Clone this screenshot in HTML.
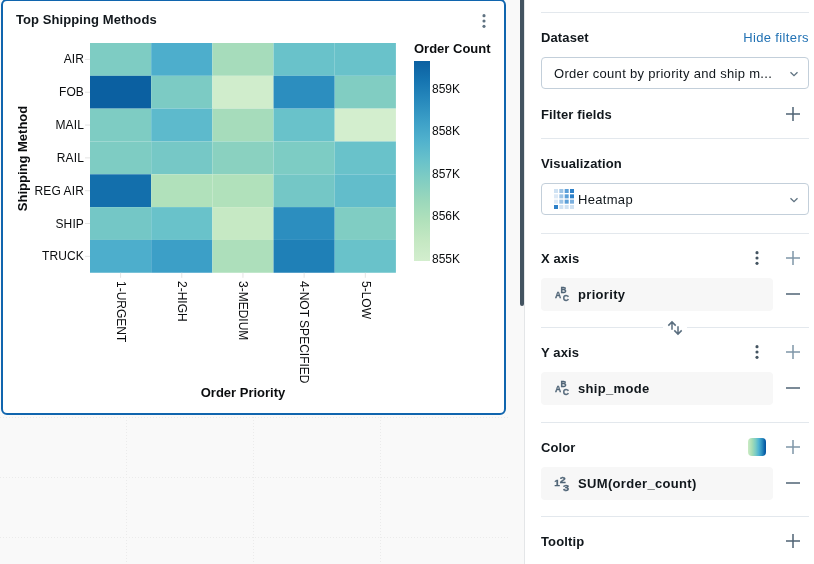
<!DOCTYPE html>
<html lang="en">
<head>
<meta charset="utf-8">
<title>Top Shipping Methods</title>
<style>
*{box-sizing:border-box;margin:0;padding:0}
html,body{width:814px;height:564px;overflow:hidden;background:#fff}
body{font-family:"Liberation Sans",Arial,sans-serif;font-size:13px;color:#11171c;position:relative}
.canvas{position:absolute;left:0;top:0;width:524px;height:564px;background:#f9f9f9;overflow:hidden}
.gl{position:absolute;background-repeat:repeat}
.gv{width:1px;top:0;height:564px;background-image:linear-gradient(to bottom,#ebebeb 1px,transparent 1px);background-size:1px 3px}
.gh{height:1px;left:0;width:509px;background-image:linear-gradient(to right,#ebebeb 1px,transparent 1px);background-size:3px 1px}
.card{position:absolute;left:1px;top:-1px;width:505px;height:416px;background:#fff;border:2px solid #1065ae;border-radius:6px}
.title{position:absolute;left:16px;top:12px;letter-spacing:0.08px;font-weight:bold;font-size:13px;line-height:16px;color:#11171c;white-space:nowrap}
.thumb{position:absolute;left:520px;top:-4px;width:4px;height:310px;background:#445461;border-radius:2px}
.panel{position:absolute;left:524px;top:0;width:290px;height:564px;background:#fff;border-left:1px solid #e4e6e8}
.hr{position:absolute;left:541px;width:268px;height:1px;background:#e3e8ed}
.lbl{position:absolute;left:541px;letter-spacing:0.12px;font-weight:bold;font-size:13px;line-height:16px;white-space:nowrap;color:#11171c}
.link{position:absolute;right:5px;letter-spacing:0.37px;font-size:13px;line-height:16px;color:#2272b4;white-space:nowrap}
.sel{position:absolute;left:541px;width:268px;height:32px;border:1px solid #c3cfda;border-radius:4px;background:#fff}
.sel span{position:absolute;top:8px;letter-spacing:0.31px;font-size:13px;line-height:16px;white-space:nowrap;color:#11171c}
.pill{position:absolute;left:541px;width:232px;height:33px;background:#f7f7f7;border-radius:4px}
.pill span{position:absolute;left:37px;top:9px;letter-spacing:0.33px;font-weight:bold;font-size:13px;line-height:16px;white-space:nowrap;color:#11171c}
svg.ic{position:absolute;overflow:visible}
</style>
</head>
<body>
<div class="canvas">
  <div class="gl gv" style="left:126px"></div>
  <div class="gl gv" style="left:253px"></div>
  <div class="gl gv" style="left:380px"></div>
  <div class="gl gh" style="top:417px"></div>
  <div class="gl gh" style="top:477px"></div>
  <div class="gl gh" style="top:537px"></div>
  <div class="card"></div>
  <svg class="chart" width="506" height="416" viewBox="0 0 506 416" style="position:absolute;left:0;top:0" font-family="Liberation Sans, Arial, sans-serif">
<rect x="90.00" y="43.00" width="61.18" height="32.82" fill="#7eccc3"/>
<rect x="151.18" y="43.00" width="61.18" height="32.82" fill="#4daecc"/>
<rect x="212.36" y="43.00" width="61.18" height="32.82" fill="#a6dcbb"/>
<rect x="273.54" y="43.00" width="61.18" height="32.82" fill="#69c2ca"/>
<rect x="334.72" y="43.00" width="61.18" height="32.82" fill="#69c2ca"/>
<rect x="90.00" y="75.82" width="61.18" height="32.82" fill="#0b60a1"/>
<rect x="151.18" y="75.82" width="61.18" height="32.82" fill="#7ccbc4"/>
<rect x="212.36" y="75.82" width="61.18" height="32.82" fill="#d0edcc"/>
<rect x="273.54" y="75.82" width="61.18" height="32.82" fill="#2c8ebf"/>
<rect x="334.72" y="75.82" width="61.18" height="32.82" fill="#81cdc2"/>
<rect x="90.00" y="108.64" width="61.18" height="32.82" fill="#7eccc3"/>
<rect x="151.18" y="108.64" width="61.18" height="32.82" fill="#5dbacc"/>
<rect x="212.36" y="108.64" width="61.18" height="32.82" fill="#a6dcbb"/>
<rect x="273.54" y="108.64" width="61.18" height="32.82" fill="#69c2ca"/>
<rect x="334.72" y="108.64" width="61.18" height="32.82" fill="#d3eece"/>
<rect x="90.00" y="141.46" width="61.18" height="32.82" fill="#7eccc3"/>
<rect x="151.18" y="141.46" width="61.18" height="32.82" fill="#76c8c6"/>
<rect x="212.36" y="141.46" width="61.18" height="32.82" fill="#8ad1c0"/>
<rect x="273.54" y="141.46" width="61.18" height="32.82" fill="#7dccc4"/>
<rect x="334.72" y="141.46" width="61.18" height="32.82" fill="#69c2ca"/>
<rect x="90.00" y="174.29" width="61.18" height="32.82" fill="#136fac"/>
<rect x="151.18" y="174.29" width="61.18" height="32.82" fill="#b1e1bb"/>
<rect x="212.36" y="174.29" width="61.18" height="32.82" fill="#b1e1bb"/>
<rect x="273.54" y="174.29" width="61.18" height="32.82" fill="#74c7c6"/>
<rect x="334.72" y="174.29" width="61.18" height="32.82" fill="#62bdcb"/>
<rect x="90.00" y="207.11" width="61.18" height="32.82" fill="#74c7c6"/>
<rect x="151.18" y="207.11" width="61.18" height="32.82" fill="#69c2ca"/>
<rect x="212.36" y="207.11" width="61.18" height="32.82" fill="#c6e9c4"/>
<rect x="273.54" y="207.11" width="61.18" height="32.82" fill="#2c8ebf"/>
<rect x="334.72" y="207.11" width="61.18" height="32.82" fill="#80cdc3"/>
<rect x="90.00" y="239.93" width="61.18" height="32.82" fill="#4daecc"/>
<rect x="151.18" y="239.93" width="61.18" height="32.82" fill="#3c9fc7"/>
<rect x="212.36" y="239.93" width="61.18" height="32.82" fill="#addfbb"/>
<rect x="273.54" y="239.93" width="61.18" height="32.82" fill="#1f80b7"/>
<rect x="334.72" y="239.93" width="61.18" height="32.82" fill="#69c2ca"/>
<line x1="85" x2="90" y1="59.41" y2="59.41" stroke="#e4e4e4" stroke-width="1"/>
<text x="84" y="63.41" font-size="12" letter-spacing="0.12" text-anchor="end" fill="#0b0d0f">AIR</text>
<line x1="85" x2="90" y1="92.23" y2="92.23" stroke="#e4e4e4" stroke-width="1"/>
<text x="84" y="96.23" font-size="12" letter-spacing="0.12" text-anchor="end" fill="#0b0d0f">FOB</text>
<line x1="85" x2="90" y1="125.05" y2="125.05" stroke="#e4e4e4" stroke-width="1"/>
<text x="84" y="129.05" font-size="12" letter-spacing="0.12" text-anchor="end" fill="#0b0d0f">MAIL</text>
<line x1="85" x2="90" y1="157.88" y2="157.88" stroke="#e4e4e4" stroke-width="1"/>
<text x="84" y="161.88" font-size="12" letter-spacing="0.12" text-anchor="end" fill="#0b0d0f">RAIL</text>
<line x1="85" x2="90" y1="190.70" y2="190.70" stroke="#e4e4e4" stroke-width="1"/>
<text x="84" y="194.70" font-size="12" letter-spacing="0.12" text-anchor="end" fill="#0b0d0f">REG AIR</text>
<line x1="85" x2="90" y1="223.52" y2="223.52" stroke="#e4e4e4" stroke-width="1"/>
<text x="84" y="227.52" font-size="12" letter-spacing="0.12" text-anchor="end" fill="#0b0d0f">SHIP</text>
<line x1="85" x2="90" y1="256.34" y2="256.34" stroke="#e4e4e4" stroke-width="1"/>
<text x="84" y="260.34" font-size="12" letter-spacing="0.12" text-anchor="end" fill="#0b0d0f">TRUCK</text>
<line x1="120.59" x2="120.59" y1="272.8" y2="277.8" stroke="#e4e4e4" stroke-width="1"/>
<text transform="translate(116.79,281) rotate(90)" font-size="12" fill="#0b0d0f">1-URGENT</text>
<line x1="181.77" x2="181.77" y1="272.8" y2="277.8" stroke="#e4e4e4" stroke-width="1"/>
<text transform="translate(177.97,281) rotate(90)" font-size="12" fill="#0b0d0f">2-HIGH</text>
<line x1="242.95" x2="242.95" y1="272.8" y2="277.8" stroke="#e4e4e4" stroke-width="1"/>
<text transform="translate(239.15,281) rotate(90)" font-size="12" fill="#0b0d0f">3-MEDIUM</text>
<line x1="304.13" x2="304.13" y1="272.8" y2="277.8" stroke="#e4e4e4" stroke-width="1"/>
<text transform="translate(300.33,281) rotate(90)" font-size="12" fill="#0b0d0f">4-NOT SPECIFIED</text>
<line x1="365.31" x2="365.31" y1="272.8" y2="277.8" stroke="#e4e4e4" stroke-width="1"/>
<text transform="translate(361.51,281) rotate(90)" font-size="12" fill="#0b0d0f">5-LOW</text>
<text transform="translate(27,158.5) rotate(-90)" font-size="13" font-weight="bold" text-anchor="middle" fill="#0b0d0f">Shipping Method</text>
<text x="243" y="397" font-size="13" font-weight="bold" text-anchor="middle" fill="#0b0d0f">Order Priority</text>
<defs><linearGradient id="lg" x1="0" y1="1" x2="0" y2="0"><stop offset="0%" stop-color="#d3eece"/><stop offset="10%" stop-color="#c5e8c3"/><stop offset="20%" stop-color="#b1e1bb"/><stop offset="30%" stop-color="#9bd8bb"/><stop offset="40%" stop-color="#82cec2"/><stop offset="50%" stop-color="#69c2ca"/><stop offset="60%" stop-color="#51b2cd"/><stop offset="70%" stop-color="#3c9fc7"/><stop offset="80%" stop-color="#288abd"/><stop offset="90%" stop-color="#1675b1"/><stop offset="100%" stop-color="#0b60a1"/></linearGradient></defs>
<text x="414" y="52.5" font-size="13" font-weight="bold" fill="#0b0d0f">Order Count</text>
<rect x="414" y="61" width="16" height="200" fill="url(#lg)"/>
<text x="432" y="93.2" font-size="12" fill="#0b0d0f">859K</text>
<text x="432" y="134.7" font-size="12" fill="#0b0d0f">858K</text>
<text x="432" y="178.2" font-size="12" fill="#0b0d0f">857K</text>
<text x="432" y="219.7" font-size="12" fill="#0b0d0f">856K</text>
<text x="432" y="263.2" font-size="12" fill="#0b0d0f">855K</text>
</svg>
  <div class="title">Top Shipping Methods</div>
  <svg class="ic" style="left:476px;top:13px" width="16" height="16" viewBox="0 0 16 16"><circle cx="8" cy="2.65" r="1.55" fill="#5f7281"/><circle cx="8" cy="8" r="1.55" fill="#5f7281"/><circle cx="8" cy="13.35" r="1.55" fill="#5f7281"/></svg>
</div>
<div class="thumb"></div>
<div class="panel"></div>

<div class="hr" style="top:12px"></div>
<div class="lbl" style="top:30px">Dataset</div>
<div class="link" style="top:30px">Hide filters</div>
<div class="sel" style="top:57px"><span style="left:12px">Order count by priority and ship m...</span>
  <svg class="ic" style="left:247.2px;top:10.5px" width="10" height="10" viewBox="0 0 10 10"><path d="M1.5 3.2 L5 6.7 L8.5 3.2" fill="none" stroke="#5f7281" stroke-width="1.3"/></svg>
</div>
<div class="lbl" style="top:107px">Filter fields</div>
<svg class="ic plus" style="left:786px;top:107px" width="14" height="14" viewBox="0 0 14 14"><path d="M7 0V14M0 7H14" stroke="#4f6374" stroke-width="1.5" fill="none"/></svg>

<div class="hr" style="top:138px"></div>
<div class="lbl" style="top:156px">Visualization</div>
<div class="sel" style="top:183px"><span style="left:36px">Heatmap</span>
  <svg class="ic" style="left:12px;top:5px" width="20" height="20" viewBox="0 0 20 20">
    <g>
    <rect x="0" y="0" width="4" height="4" fill="#cfe2f3"/><rect x="5.33" y="0" width="4" height="4" fill="#9dc4e6"/><rect x="10.67" y="0" width="4" height="4" fill="#5b9fd8"/><rect x="16" y="0" width="4" height="4" fill="#2d80c8"/>
    <rect x="0" y="5.33" width="4" height="4" fill="#dce9f6"/><rect x="5.33" y="5.33" width="4" height="4" fill="#9dc4e6"/><rect x="10.67" y="5.33" width="4" height="4" fill="#5b9fd8"/><rect x="16" y="5.33" width="4" height="4" fill="#2d80c8"/>
    <rect x="0" y="10.67" width="4" height="4" fill="#dce9f6"/><rect x="5.33" y="10.67" width="4" height="4" fill="#9dc4e6"/><rect x="10.67" y="10.67" width="4" height="4" fill="#5b9fd8"/><rect x="16" y="10.67" width="4" height="4" fill="#7bb0df"/>
    <rect x="0" y="16" width="4" height="4" fill="#2d80c8"/><rect x="5.33" y="16" width="4" height="4" fill="#cfe2f3"/><rect x="10.67" y="16" width="4" height="4" fill="#cfe2f3"/><rect x="16" y="16" width="4" height="4" fill="#cfe2f3"/>
    </g>
  </svg>
  <svg class="ic" style="left:247.2px;top:10.5px" width="10" height="10" viewBox="0 0 10 10"><path d="M1.5 3.2 L5 6.7 L8.5 3.2" fill="none" stroke="#5f7281" stroke-width="1.3"/></svg>
</div>

<div class="hr" style="top:233px"></div>
<div class="lbl" style="top:251px">X axis</div>
<svg class="ic" style="left:749px;top:250px" width="16" height="16" viewBox="0 0 16 16"><circle cx="8" cy="2.65" r="1.55" fill="#445461"/><circle cx="8" cy="8" r="1.55" fill="#445461"/><circle cx="8" cy="13.35" r="1.55" fill="#445461"/></svg>
<svg class="ic" style="left:786px;top:251px" width="14" height="14" viewBox="0 0 14 14"><path d="M7 0V14M0 7H14" stroke="#7f96a8" stroke-width="1.5" fill="none"/></svg>
<div class="pill" style="top:278px"><span>priority</span>
  <svg class="ic" style="left:13px;top:7px" width="18" height="18" viewBox="0 0 18 18" font-family="Liberation Sans, Arial, sans-serif" font-weight="bold" font-size="9.6" fill="#506577" stroke="#506577" stroke-width="0.3"><text x="0.9" y="12.9" textLength="6.2" lengthAdjust="spacingAndGlyphs">A</text><text x="6.6" y="7.7" textLength="6" lengthAdjust="spacingAndGlyphs">B</text><text x="8.8" y="15.9" textLength="6.3" lengthAdjust="spacingAndGlyphs">C</text></svg>
</div>
<svg class="ic" style="left:786px;top:287px" width="14" height="14" viewBox="0 0 14 14"><path d="M0 7H14" stroke="#4f6374" stroke-width="1.5" fill="none"/></svg>

<div class="hr" style="top:327px;width:122px"></div>
<div class="hr" style="top:327px;left:687px;width:122px"></div>
<svg class="ic" style="left:660px;top:315px" width="30" height="25" viewBox="660 315 30 25"><path d="M672 329.8V322.2M668.3 325.6L672 321.9L675.7 325.6M678 326.2V334M674.3 330.4L678 334.1L681.7 330.4" fill="none" stroke="#5a6e7f" stroke-width="1.5"/></svg>

<div class="lbl" style="top:345px">Y axis</div>
<svg class="ic" style="left:749px;top:344px" width="16" height="16" viewBox="0 0 16 16"><circle cx="8" cy="2.65" r="1.55" fill="#445461"/><circle cx="8" cy="8" r="1.55" fill="#445461"/><circle cx="8" cy="13.35" r="1.55" fill="#445461"/></svg>
<svg class="ic" style="left:786px;top:345px" width="14" height="14" viewBox="0 0 14 14"><path d="M7 0V14M0 7H14" stroke="#7f96a8" stroke-width="1.5" fill="none"/></svg>
<div class="pill" style="top:372px"><span>ship_mode</span>
  <svg class="ic" style="left:13px;top:7px" width="18" height="18" viewBox="0 0 18 18" font-family="Liberation Sans, Arial, sans-serif" font-weight="bold" font-size="9.6" fill="#506577" stroke="#506577" stroke-width="0.3"><text x="0.9" y="12.9" textLength="6.2" lengthAdjust="spacingAndGlyphs">A</text><text x="6.6" y="7.7" textLength="6" lengthAdjust="spacingAndGlyphs">B</text><text x="8.8" y="15.9" textLength="6.3" lengthAdjust="spacingAndGlyphs">C</text></svg>
</div>
<svg class="ic" style="left:786px;top:381px" width="14" height="14" viewBox="0 0 14 14"><path d="M0 7H14" stroke="#4f6374" stroke-width="1.5" fill="none"/></svg>

<div class="hr" style="top:422px"></div>
<div class="lbl" style="top:440px">Color</div>
<div style="position:absolute;left:748px;top:438px;width:18px;height:18px;border-radius:4px;background:linear-gradient(to right,#cbebc4 0%,#a8ddb5 22%,#7bccc4 42%,#4eb3d3 60%,#2b8cbe 78%,#0a62a9 92%,#08529c 100%)"></div>
<svg class="ic" style="left:786px;top:440px" width="14" height="14" viewBox="0 0 14 14"><path d="M7 0V14M0 7H14" stroke="#7f96a8" stroke-width="1.5" fill="none"/></svg>
<div class="pill" style="top:467px"><span>SUM(order_count)</span>
  <svg class="ic" style="left:13px;top:7px" width="18" height="18" viewBox="0 0 18 18" font-family="Liberation Sans, Arial, sans-serif" font-weight="bold" font-size="9.4" fill="#506577" stroke="#506577" stroke-width="0.3"><text x="0.2" y="12.4" textLength="5.6" lengthAdjust="spacingAndGlyphs">1</text><text x="5.7" y="8.7" textLength="6" lengthAdjust="spacingAndGlyphs">2</text><text x="9" y="16.5" textLength="6.2" lengthAdjust="spacingAndGlyphs">3</text></svg>
</div>
<svg class="ic" style="left:786px;top:476px" width="14" height="14" viewBox="0 0 14 14"><path d="M0 7H14" stroke="#4f6374" stroke-width="1.5" fill="none"/></svg>

<div class="hr" style="top:516px"></div>
<div class="lbl" style="top:534px">Tooltip</div>
<svg class="ic" style="left:786px;top:534px" width="14" height="14" viewBox="0 0 14 14"><path d="M7 0V14M0 7H14" stroke="#4f6374" stroke-width="1.5" fill="none"/></svg>
</body>
</html>
